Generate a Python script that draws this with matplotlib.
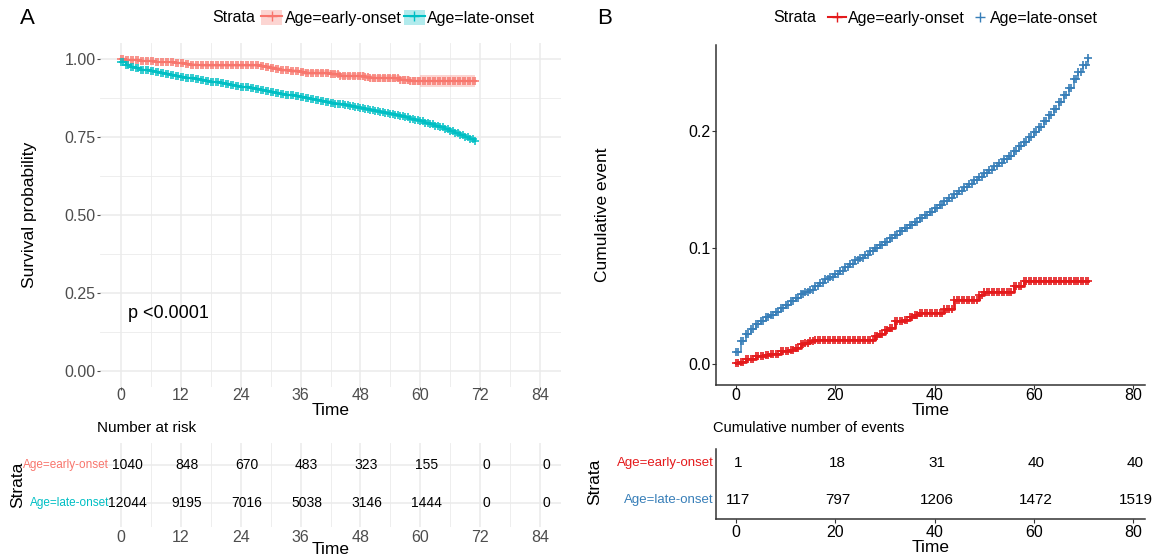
import numpy as np
import matplotlib
matplotlib.use("Agg")
import matplotlib.pyplot as plt
from matplotlib.lines import Line2D
from matplotlib.patches import Patch

plt.rcParams['font.family'] = ['Liberation Sans', 'DejaVu Sans']

# ---- data (months 0..71) ----
months = np.arange(0, 72)

# cumulative event (1 - survival), early-onset, read per month
early_cum = [0.001, 0.002, 0.0045, 0.0045, 0.007, 0.007, 0.008, 0.009, 0.009, 0.011,
             0.011, 0.012, 0.014, 0.017, 0.018, 0.020, 0.021, 0.021, 0.021, 0.021,
             0.021, 0.021, 0.021, 0.021, 0.021, 0.021, 0.021, 0.021, 0.024, 0.026,
             0.029, 0.031, 0.037, 0.037, 0.038, 0.040, 0.042, 0.044, 0.044, 0.044,
             0.044, 0.044, 0.047, 0.047, 0.055, 0.055, 0.055, 0.055, 0.055, 0.059,
             0.062, 0.062, 0.062, 0.062, 0.062, 0.062, 0.067, 0.067, 0.071, 0.071,
             0.071, 0.071, 0.071, 0.071, 0.071, 0.071, 0.071, 0.071, 0.071, 0.071,
             0.071, 0.071]

# cumulative event, late-onset, read per month
late_cum = [0.010, 0.020, 0.026, 0.030, 0.034, 0.037, 0.040, 0.042, 0.045, 0.048,
            0.051, 0.054, 0.057, 0.060, 0.062, 0.064, 0.067, 0.070, 0.073, 0.075,
            0.077, 0.080, 0.083, 0.086, 0.089, 0.091, 0.094, 0.097, 0.100, 0.102,
            0.105, 0.108, 0.111, 0.114, 0.117, 0.119, 0.122, 0.125, 0.128, 0.131,
            0.134, 0.137, 0.140, 0.143, 0.146, 0.149, 0.152, 0.155, 0.158, 0.161,
            0.164, 0.167, 0.170, 0.173, 0.176, 0.179, 0.183, 0.187, 0.191, 0.195,
            0.199, 0.204, 0.209, 0.214, 0.219, 0.225, 0.231, 0.237, 0.245, 0.251,
            0.257, 0.263]

# confidence band half-width per 12-month block
early_ci = [0.002, 0.004, 0.006, 0.009, 0.012, 0.018]
late_ci = [0.001, 0.002, 0.003, 0.004, 0.005, 0.008]

risk_times = [0, 12, 24, 36, 48, 60, 72, 84]
risk_early = [1040, 848, 670, 483, 323, 155, 0, 0]
risk_late = [12044, 9195, 7016, 5038, 3146, 1444, 0, 0]

event_times = [0, 20, 40, 60, 80]
events_early = [1, 18, 31, 40, 40]
events_late = [117, 797, 1206, 1472, 1519]

labels = ['Age=early-onset', 'Age=late-onset']
colA = ['#F8766D', '#00BFC4']
colB = ['#E41A1C', '#377EB8']

W, H = 1158, 559
fig = plt.figure(figsize=(W / 100, H / 100), dpi=100)


def px_axes(l, t, r, b):
    return fig.add_axes([l / W, 1 - b / H, (r - l) / W, (b - t) / H])


def fig_text(x, y, s, **kw):
    fig.text(x / W, 1 - y / H, s, **kw)


# censor marks every half month
mark_t = np.arange(0, 71.5, 0.5)
mark_i = np.floor(mark_t).astype(int)

grey = '#4D4D4D'
grid = '#EBEBEB'

# ---------------- Panel A: survival ----------------
axA = px_axes(100, 43, 561, 387)
for cum, ci, c in zip([early_cum, late_cum], [early_ci, late_ci], colA):
    surv = 1 - np.array(cum)
    hw = np.repeat(ci, 12)[:len(months)]
    axA.fill_between(months, surv - hw, surv + hw, step='post', color=c, alpha=0.3, lw=0)
    axA.step(months, surv, where='post', color=c, lw=1.6)
    axA.plot(mark_t, surv[mark_i], '+', color=c, ms=5.5, mew=1.1)
axA.set_xlim(-4.2, 88.2)
axA.set_ylim(-0.051, 1.051)
axA.set_xticks(risk_times)
axA.set_xticks(np.arange(6, 90, 12), minor=True)
axA.set_yticks([0, 0.25, 0.5, 0.75, 1.0])
axA.set_yticks([0.125, 0.375, 0.625, 0.875], minor=True)
axA.set_yticklabels(['0.00', '0.25', '0.50', '0.75', '1.00'])
axA.grid(True, which='major', color=grid, lw=1.1)
axA.grid(True, which='minor', color=grid, lw=0.6)
axA.set_axisbelow(True)
for s in axA.spines.values():
    s.set_visible(False)
axA.tick_params(which='major', length=2, color=grey, labelcolor=grey, labelsize=11.5, pad=1)
axA.tick_params(axis='x', which='major', pad=-1)
axA.tick_params(which='minor', length=0)
axA.set_ylabel('Survival probability', fontsize=12.5, labelpad=20)
axA.set_xlabel('Time', fontsize=12.5, labelpad=0)
axA.text(1.5, 0.186, 'p <0.0001', fontsize=13, va='center', ha='left')

# risk table A
axRA = px_axes(100, 443, 561, 527)
axRA.set_xlim(-4.2, 88.2)
axRA.set_ylim(0.37, 2.58)
for row, vals in zip([2, 1], [risk_early, risk_late]):
    for t, v in zip(risk_times, vals):
        axRA.text(t + 1.2, row, str(v), ha='center', va='center', fontsize=10)
axRA.set_xticks(risk_times)
axRA.set_xticks(np.arange(6, 90, 12), minor=True)
axRA.set_yticks([1, 2])
axRA.set_yticklabels([])
axRA.grid(True, which='major', color=grid, lw=1.1)
axRA.grid(True, which='minor', axis='x', color=grid, lw=0.6)
axRA.set_axisbelow(True)
for s in axRA.spines.values():
    s.set_visible(False)
axRA.tick_params(which='both', length=0, labelcolor=grey, labelsize=11.5, pad=2)
axRA.set_xlabel('Time', fontsize=12.5, labelpad=-2)
for row, lab, c in zip([2, 1], labels, colA):
    axRA.text(0.02, row, lab, color=c, fontsize=8.5, ha='right', va='center',
              transform=axRA.get_yaxis_transform())
fig_text(97, 428, 'Number at risk', fontsize=11, va='center')
fig_text(18, 485, 'Strata', fontsize=12.5, rotation=90, va='center', ha='center')

# legend A
fig_text(20, 18, 'A', fontsize=16, va='center')
fig_text(212, 18, 'Strata', fontsize=11.5, va='center')
hA = [(Patch(fc=c, alpha=0.3, lw=0), Line2D([], [], color=c, marker='+', ms=7, lw=1.5)) for c in colA]
fig.legend(hA, labels, loc='center left', bbox_to_anchor=(255 / W, 1 - 18 / H), ncol=2,
           frameon=False, fontsize=11.5, handlelength=1.3, handleheight=1.1,
           handletextpad=0.15, columnspacing=0.15, borderaxespad=0)

# ---------------- Panel B: cumulative events ----------------
axB = px_axes(716, 45, 1145, 385)
for cum, c, lw in zip([early_cum, late_cum], colB, [2.0, 1.1]):
    cum = np.array(cum)
    axB.step(months, cum, where='post', color=c, lw=lw)
    axB.plot(mark_t, cum[mark_i], '+', color=c, ms=5.5, mew=1.2)
axB.set_xlim(-4.03, 82.4)
axB.set_ylim(-0.018, 0.274)
axB.set_xticks(event_times)
axB.set_yticks([0.0, 0.1, 0.2])
for s in ['top', 'right']:
    axB.spines[s].set_visible(False)
for s in ['left', 'bottom']:
    axB.spines[s].set_color('#333333')
    axB.spines[s].set_linewidth(1.1)
axB.tick_params(length=3, color='#333333', labelsize=11.5, pad=1)
axB.tick_params(axis='x', pad=-1)
axB.set_ylabel('Cumulative event', fontsize=12.5, labelpad=56)
axB.set_xlabel('Time', fontsize=12.5, labelpad=0)

# events table B
axRB = px_axes(716, 449, 1145, 519)
axRB.set_xlim(-4.03, 82.4)
axRB.set_ylim(0.49, 2.38)
for row, vals in zip([2, 1], [events_early, events_late]):
    for t, v in zip(event_times, vals):
        axRB.text(t + 0.5, row, str(v), ha='center', va='center', fontsize=11)
axRB.set_xticks(event_times)
axRB.set_yticks([])
for s in ['top', 'right']:
    axRB.spines[s].set_visible(False)
for s in ['left', 'bottom']:
    axRB.spines[s].set_color('#333333')
    axRB.spines[s].set_linewidth(1.1)
axRB.tick_params(length=3, color='#333333', labelsize=11.5, pad=1)
axRB.set_xlabel('Time', fontsize=12.5, labelpad=0)
for row, lab, c in zip([2, 1], labels, colB):
    axRB.text(-0.005, row, lab, color=c, fontsize=9.5, ha='right', va='center',
              transform=axRB.get_yaxis_transform())
fig_text(713, 428, 'Cumulative number of events', fontsize=10.5, va='center')
fig_text(595, 482, 'Strata', fontsize=12.5, rotation=90, va='center', ha='center')

# legend B
fig_text(597, 18, 'B', fontsize=16, va='center')
fig_text(773, 18, 'Strata', fontsize=11.5, va='center')
hB = [Line2D([], [], color=colB[0], marker='+', ms=7, lw=1.5),
      Line2D([], [], color=colB[1], marker='+', ms=7, lw=0)]
fig.legend(hB, labels, loc='center left', bbox_to_anchor=(822 / W, 1 - 18 / H), ncol=2,
           frameon=False, fontsize=11.5, handlelength=1.1,
           handletextpad=0.1, columnspacing=0.4, borderaxespad=0)

fig.savefig('out.png', dpi=100)
